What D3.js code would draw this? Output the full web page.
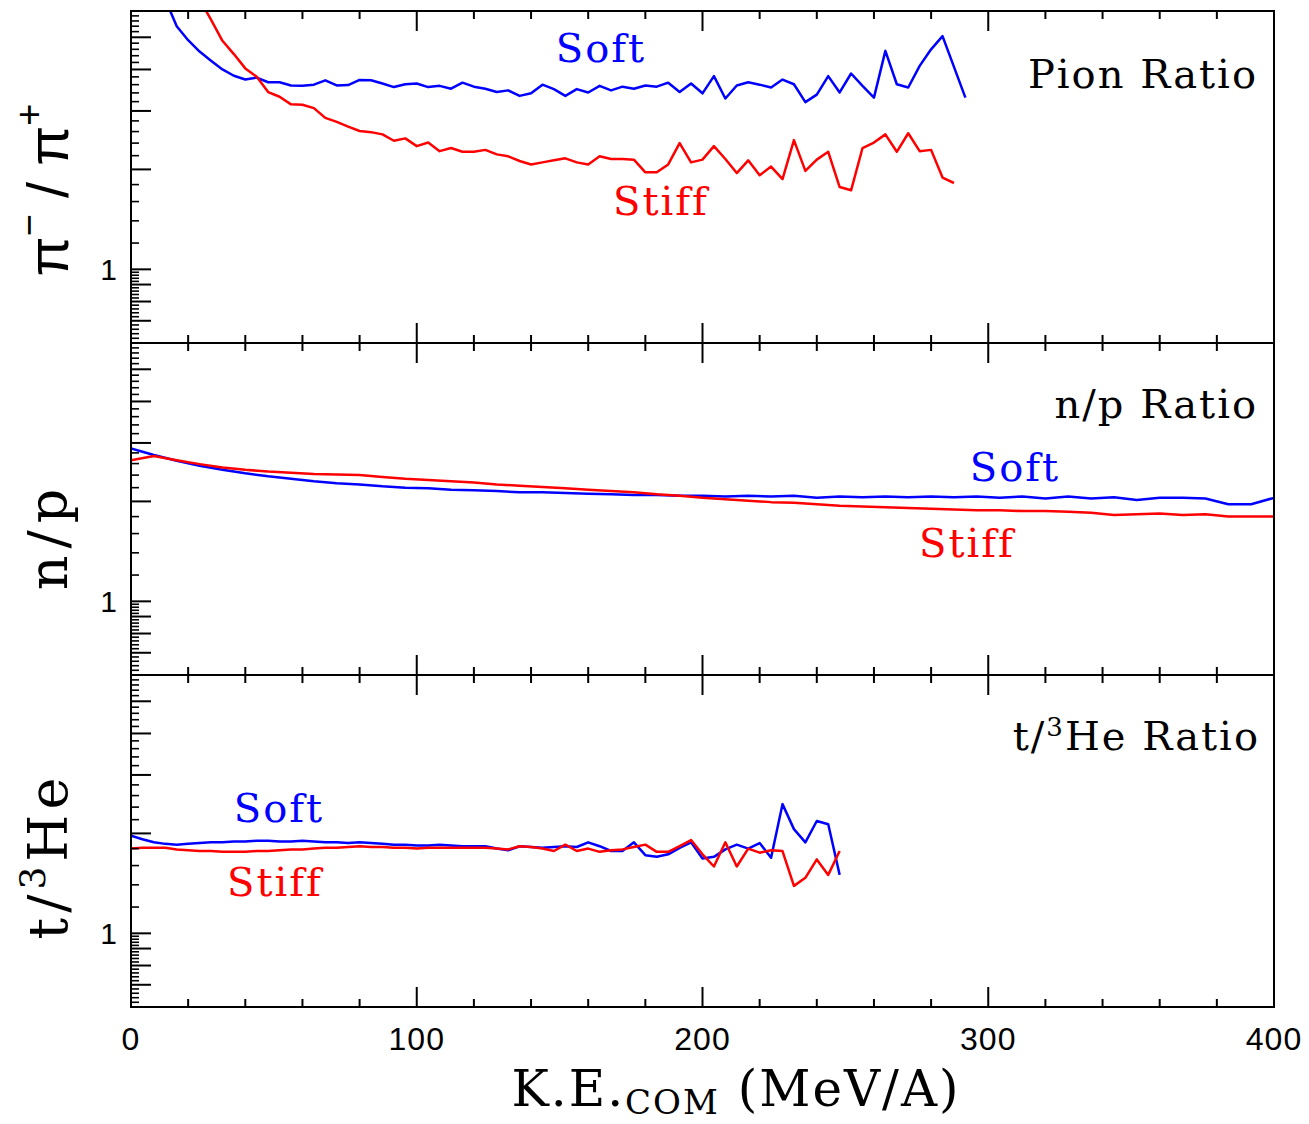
<!DOCTYPE html>
<html>
<head>
<meta charset="utf-8">
<script src="https://cdn.jsdelivr.net/npm/d3@7"></script>
<style>
  body { margin: 0; background: #fff; }
  text { fill: #000; }
</style>
</head>
<body>
<svg id="chart" width="1309" height="1124"></svg>
<script>
// kinetic energy bins (MeV/A) and ratios
var pionSoftEnergy = [0,4,8,12,16,20,24,28,32,36,40,44,48,52,56,60,64,68,72,76,80,84,88,92,96,100,
  104,108,112,116,120,124,128,132,136,140,144,148,152,156,160,164,168,172,176,180,184,188,192,196,200,
  204,208,212,216,220,224,228,232,236,240,244,248,252,256,260,264,268,272,276,280,284,292];
var pionSoftRatio = [10.0,8.6,7.6,6.5,5.4,4.9,4.53,4.25,4.0,3.83,3.73,3.78,3.66,3.66,3.58,3.57,3.60,3.71,3.58,3.59,3.72,3.71,3.63,3.54,3.61,3.63,
  3.54,3.57,3.50,3.65,3.55,3.50,3.42,3.46,3.33,3.39,3.60,3.49,3.33,3.49,3.41,3.57,3.46,3.55,3.50,3.58,3.55,3.65,3.42,3.63,3.39,
  3.82,3.27,3.58,3.66,3.60,3.53,3.73,3.61,3.19,3.36,3.82,3.41,3.89,3.57,3.29,4.55,3.61,3.53,4.10,4.60,5.04,3.29];

var pionStiffEnergy = [0,4,8,12,16,20,24,28,32,36,40,44,48,52,56,60,64,68,72,76,80,84,88,92,96,100,
  104,108,112,116,120,124,128,132,136,140,144,148,152,156,160,164,168,172,176,180,184,188,192,196,200,
  204,208,212,216,220,224,228,232,236,240,244,248,252,256,260,264,268,272,276,280,284,288];
var pionStiffRatio = [14.0,12.2,10.6,9.3,8.2,7.3,6.5,5.65,4.88,4.45,4.03,3.80,3.42,3.31,3.14,3.13,3.06,2.86,2.78,2.69,2.61,2.59,2.55,2.44,2.48,2.35,
  2.41,2.27,2.32,2.26,2.26,2.29,2.22,2.19,2.12,2.07,2.10,2.13,2.16,2.10,2.07,2.19,2.15,2.15,2.14,1.96,1.96,2.07,2.40,2.10,2.14,
  2.35,2.15,1.95,2.13,1.92,2.04,1.87,2.45,1.98,2.14,2.26,1.77,1.73,2.32,2.41,2.55,2.26,2.57,2.27,2.29,1.89,1.82];

var npEnergy = [0,8,16,24,32,40,48,56,64,72,80,88,96,104,112,120,128,136,144,152,160,168,176,184,192,200,
  208,216,224,232,240,248,256,264,272,280,288,296,304,312,320,328,336,344,352,360,368,376,384,392,400];
var npSoftRatio = [2.89,2.76,2.65,2.56,2.49,2.43,2.38,2.34,2.30,2.27,2.25,2.22,2.20,2.19,2.17,2.16,2.15,2.13,2.13,2.12,2.11,2.10,2.09,2.09,2.08,2.08,
  2.07,2.08,2.07,2.08,2.05,2.07,2.06,2.07,2.06,2.07,2.06,2.07,2.05,2.07,2.04,2.07,2.04,2.06,2.02,2.05,2.05,2.04,1.96,1.96,2.05];
var npStiffRatio = [2.66,2.74,2.66,2.59,2.53,2.49,2.46,2.44,2.42,2.41,2.40,2.37,2.34,2.32,2.30,2.28,2.25,2.23,2.21,2.19,2.17,2.15,2.13,2.10,2.08,2.05,
  2.03,2.01,1.99,1.98,1.96,1.94,1.93,1.92,1.91,1.90,1.89,1.88,1.88,1.87,1.87,1.86,1.85,1.82,1.83,1.84,1.82,1.83,1.80,1.80,1.80];

var tHeEnergy = [0,4,8,12,16,20,24,28,32,36,40,44,48,52,56,60,64,68,72,76,80,84,88,92,96,100,
  104,108,112,116,120,124,128,132,136,140,144,148,152,156,160,164,168,172,176,180,184,188,192,196,200,
  204,208,212,216,220,224,228,232,236,240,244,248];
var tHeSoftRatio = [1.97,1.92,1.88,1.86,1.85,1.86,1.87,1.88,1.88,1.89,1.89,1.90,1.90,1.89,1.89,1.90,1.89,1.88,1.88,1.87,
  1.88,1.87,1.86,1.85,1.85,1.84,1.84,1.85,1.84,1.83,1.83,1.83,1.80,1.78,1.83,1.82,1.81,1.82,1.83,1.82,
  1.88,1.83,1.77,1.77,1.88,1.72,1.70,1.73,1.81,1.88,1.68,1.70,1.79,1.85,1.80,1.87,1.69,2.45,2.06,1.88,
  2.18,2.13,1.50];
var tHeStiffRatio = [1.80,1.81,1.81,1.81,1.79,1.78,1.77,1.77,1.76,1.76,1.76,1.77,1.77,1.78,1.79,1.79,1.80,1.81,1.81,1.82,
  1.83,1.82,1.82,1.81,1.81,1.80,1.81,1.81,1.81,1.81,1.81,1.81,1.80,1.79,1.83,1.82,1.80,1.77,1.85,1.77,
  1.80,1.76,1.78,1.79,1.82,1.85,1.76,1.76,1.83,1.91,1.73,1.59,1.88,1.59,1.80,1.75,1.78,1.77,1.39,1.47,
  1.67,1.50,1.77];

var xTickValues = [0, 100, 200, 300, 400];
var yTickLabels = [1];

var softColor = "#0000ff", stiffColor = "#ff0000";
var serif = "'DejaVu Serif', serif", sans = "'Liberation Sans', Arial, sans-serif";

var plotLeft = 131, plotRight = 1274;
var panelTops = [11, 343, 675], panelHeight = 332;

var svg = d3.select("#chart");
var xScale = d3.scaleLinear().domain([0, 400]).range([plotLeft, plotRight]);

// tick positions for the log axis: long at 0.1 steps below 1 and at integers above
var yLongTicks = [0.7, 0.8, 0.9, 1, 2, 3, 4, 5];
var yShortTicks = d3.range(31, 50).map(function (k) { return k * 0.02; })
  .filter(function (v) { return Math.abs(v * 10 - Math.round(v * 10)) > 1e-6; })
  .concat(d3.range(6, 30).map(function (k) { return k * 0.2; })
  .filter(function (v) { return Math.abs(v - Math.round(v)) > 1e-6; }));
var xMinorTicks = d3.range(0, 401, 20).filter(function (v) { return v % 100 !== 0; });

var panels = [
  { series: [[pionSoftEnergy, pionSoftRatio, softColor], [pionStiffEnergy, pionStiffRatio, stiffColor]] },
  { series: [[npEnergy, npSoftRatio, softColor], [npEnergy, npStiffRatio, stiffColor]] },
  { series: [[tHeEnergy, tHeSoftRatio, softColor], [tHeEnergy, tHeStiffRatio, stiffColor]] }
];

panels.forEach(function (panel, i) {
  var top = panelTops[i], bottom = top + panelHeight;
  var yScale = d3.scaleLog().domain([0.6, 6]).range([bottom, top]);
  var g = svg.append("g");

  svg.append("clipPath").attr("id", "clip" + i)
    .append("rect").attr("x", plotLeft).attr("y", top)
    .attr("width", plotRight - plotLeft).attr("height", panelHeight);

  var line = d3.line()
    .x(function (d) { return xScale(d[0]); })
    .y(function (d) { return yScale(d[1]); });

  panel.series.forEach(function (s) {
    var pts = s[0].map(function (e, k) { return [e, s[1][k]]; });
    g.append("path")
      .attr("d", line(pts))
      .attr("clip-path", "url(#clip" + i + ")")
      .attr("fill", "none")
      .attr("stroke", s[2])
      .attr("stroke-width", 2.5)
      .attr("stroke-linejoin", "round");
  });

  // left log axis ticks
  g.selectAll(".ylong").data(yLongTicks).enter().append("line")
    .attr("x1", plotLeft).attr("x2", plotLeft + 20)
    .attr("y1", function (d) { return yScale(d); }).attr("y2", function (d) { return yScale(d); })
    .attr("stroke", "#000").attr("stroke-width", 2);
  g.selectAll(".yshort").data(yShortTicks).enter().append("line")
    .attr("x1", plotLeft).attr("x2", plotLeft + 8)
    .attr("y1", function (d) { return yScale(d); }).attr("y2", function (d) { return yScale(d); })
    .attr("stroke", "#000").attr("stroke-width", 1.6);

  // x ticks on top and bottom edges
  [[top, 1], [bottom, -1]].forEach(function (edge) {
    g.selectAll(null).data(xTickValues).enter().append("line")
      .attr("x1", function (d) { return xScale(d); }).attr("x2", function (d) { return xScale(d); })
      .attr("y1", edge[0]).attr("y2", edge[0] + edge[1] * 20)
      .attr("stroke", "#000").attr("stroke-width", 2);
    g.selectAll(null).data(xMinorTicks).enter().append("line")
      .attr("x1", function (d) { return xScale(d); }).attr("x2", function (d) { return xScale(d); })
      .attr("y1", edge[0]).attr("y2", edge[0] + edge[1] * 8)
      .attr("stroke", "#000").attr("stroke-width", 2);
  });

  g.append("rect")
    .attr("x", plotLeft).attr("y", top)
    .attr("width", plotRight - plotLeft).attr("height", panelHeight)
    .attr("fill", "none").attr("stroke", "#000").attr("stroke-width", 2);

  g.selectAll(".ylab").data(yTickLabels).enter().append("text")
    .attr("x", plotLeft - 14).attr("y", function (d) { return yScale(d) + 11; })
    .attr("text-anchor", "end")
    .style("font-family", sans).style("font-size", "30px")
    .text(function (d) { return d; });
});

// x axis labels
svg.selectAll(".xlab").data(xTickValues).enter().append("text")
  .attr("x", function (d) { return xScale(d); }).attr("y", 1050)
  .attr("text-anchor", "middle")
  .style("font-family", sans).style("font-size", "32px").style("letter-spacing", "1px")
  .text(function (d) { return d; });

var xTitle = svg.append("text").attr("x", 736).attr("y", 1106)
  .attr("text-anchor", "middle")
  .style("font-family", serif).style("font-size", "50px").style("letter-spacing", "2px");
xTitle.append("tspan").text("K.E.");
xTitle.append("tspan").attr("dy", 8).style("font-size", "34px").text("COM");
xTitle.append("tspan").attr("dy", -8).text(" (MeV/A)");

// y axis titles (rotated)
function yTitle(cx, cy) {
  return svg.append("text")
    .attr("transform", "translate(" + cx + "," + cy + ") rotate(-90)")
    .attr("text-anchor", "middle")
    .style("font-size", "54px");
}
var t1 = yTitle(68, 190).style("font-family", sans).style("font-size", "58px");
t1.append("tspan").text("π");
t1.append("tspan").attr("dy", -26).style("font-size", "38px").text("−");
t1.append("tspan").attr("dy", 26).text(" / π");
t1.append("tspan").attr("dy", -26).style("font-size", "38px").text("+");

yTitle(67, 536).style("font-family", serif).style("letter-spacing", "7px").text("n/p");

var t3 = yTitle(67, 856).style("font-family", serif).style("letter-spacing", "5px");
t3.append("tspan").text("t/");
t3.append("tspan").attr("dy", -22).style("font-size", "36px").text("3");
t3.append("tspan").attr("dy", 22).text("He");

// in-panel labels
function label(txt, x, y, color, anchor) {
  return svg.append("text").attr("x", x).attr("y", y)
    .attr("text-anchor", anchor || "middle")
    .style("font-family", serif).style("font-size", "40px").style("letter-spacing", "2px")
    .style("fill", color || "#000")
    .text(txt);
}
label("Soft", 601, 62, softColor);
label("Stiff", 661, 215, stiffColor);
label("Pion Ratio", 1258, 88, "#000", "end");

label("n/p Ratio", 1258, 418, "#000", "end");
label("Soft", 1015, 481, softColor);
label("Stiff", 967, 557, stiffColor);

var l3 = svg.append("text").attr("x", 1260).attr("y", 750)
  .attr("text-anchor", "end")
  .style("font-family", serif).style("font-size", "40px").style("letter-spacing", "2px");
l3.append("tspan").text("t/");
l3.append("tspan").attr("dy", -14).style("font-size", "26px").text("3");
l3.append("tspan").attr("dy", 14).text("He Ratio");
label("Soft", 279, 822, softColor);
label("Stiff", 275, 896, stiffColor);
</script>
</body>
</html>
